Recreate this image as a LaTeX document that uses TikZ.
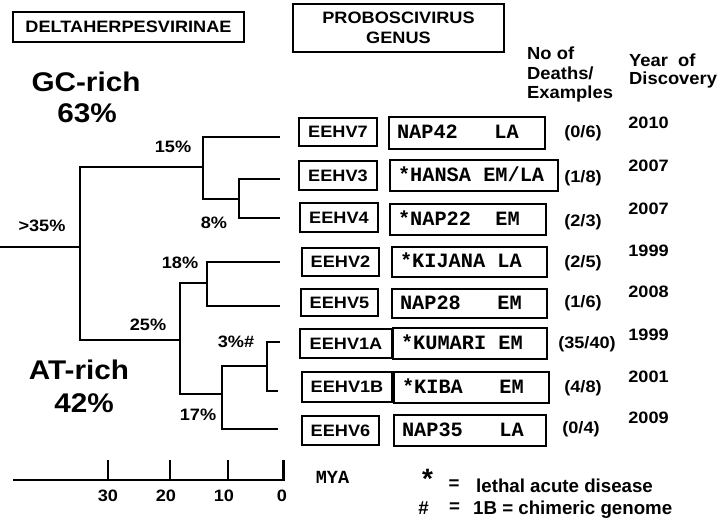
\documentclass[tikz,border=0pt]{standalone}
\usepackage{fontspec}
\setmainfont{Liberation Sans}
\newfontfamily\hv[FakeStretch=1.1]{Liberation Sans}
\newfontfamily\hw[FakeStretch=1.05]{Liberation Sans}
\newfontfamily\cour{Liberation Mono}
\newcommand\msp{\hphantom{M}}
\tikzset{
  lab/.style={font=\hv\bfseries\fontsize{16.5}{18}\selectfont, inner sep=0pt},
  hdr/.style={font=\hw\bfseries\fontsize{17.5}{20}\selectfont, inner sep=0pt},
  big/.style={font=\hv\bfseries\fontsize{27}{30}\selectfont, inner sep=0pt},
  tree/.style={line width=2pt},
  vbox/.style={draw, line width=2.4pt, inner sep=0pt, font=\hv\bfseries\fontsize{16.5}{18}\selectfont, text height=11.8pt, text depth=0pt},
  mbox/.style={draw, line width=2.4pt, inner xsep=8pt, inner ysep=0pt, align=left, font=\cour\bfseries\fontsize{20.3}{22}\selectfont, text height=11.6pt, text depth=0pt},
  hbox/.style={draw, line width=2.4pt, inner sep=0pt, align=center, font=\hv\bfseries\fontsize{16.5}{20}\selectfont},
  note/.style={font=\bfseries\fontsize{18.7}{20}\selectfont, inner sep=0pt},
}
\begin{document}
\begin{tikzpicture}[x=1pt,y=-1pt]
\useasboundingbox (0,0) rectangle (720,521);
% title boxes
\node[hbox, minimum width=231pt, minimum height=30pt] (delta) at (128.5,27) {DELTAHERPESVIRINAE};
\node[hbox, minimum width=211pt, minimum height=48pt] (prob) at (398.5,28) {PROBOSCIVIRUS\\GENUS};
% GC / AT
\node[big] (gc) at (86,82) {GC-rich};
\node[big] (gcp) at (87,113) {63\%};
\node[big] (at) at (79,370) {AT-rich};
\node[big] (atp) at (84,403) {42\%};
% headers
\node[hdr, anchor=base west] (h1) at (527,60) {No of};
\node[hdr, anchor=base west] (h2) at (527,80) {Deaths/};
\node[hdr, anchor=base west] (h3) at (527,99) {Examples};
\node[hdr, anchor=base west] (y1) at (629,67) {Year\ \ of};
\node[hdr, anchor=base west] (y2) at (629,85) {Discovery};
% tree coordinates
\coordinate (root) at (0,247);
\coordinate (n0) at (80,247);
\coordinate (a) at (203,167);
\coordinate (b) at (239,199);
\coordinate (c) at (180,340);
\coordinate (d) at (207,283);
\coordinate (e) at (222,394);
\coordinate (f) at (267,366);
\coordinate (t1) at (280,137);
\coordinate (t2) at (280,179);
\coordinate (t3) at (280,218);
\coordinate (t4) at (280,262);
\coordinate (t5) at (280,306);
\coordinate (t6) at (280,342);
\coordinate (t7) at (278,391);
\coordinate (t8) at (278,429);
\draw[tree] (root) -- (n0);
\draw[tree] (n0) |- (a);
\draw[tree] (n0) |- (c);
\draw[tree] (a) |- (t1);
\draw[tree] (a) |- (b);
\draw[tree] (b) |- (t2);
\draw[tree] (b) |- (t3);
\draw[tree] (c) |- (d);
\draw[tree] (c) |- (e);
\draw[tree] (d) |- (t4);
\draw[tree] (d) |- (t5);
\draw[tree] (e) |- (f);
\draw[tree] (e) |- (t8);
\draw[tree] (f) |- (t6);
\draw[tree] (f) |- (t7);
% percent labels
\node[lab] (p35) at (42,226) {>35\%};
\node[lab] (p15) at (173,147) {15\%};
\node[lab] (p8) at (214,223) {8\%};
\node[lab] (p18) at (180,263) {18\%};
\node[lab] (p25) at (148,325) {25\%};
\node[lab] (p3) at (236,342) {3\%\#};
\node[lab] (p17) at (198,415) {17\%};
% EEHV boxes
\node[vbox, minimum width=78pt, minimum height=28pt] (v1) at (338,132) {EEHV7};
\node[vbox, minimum width=78pt, minimum height=29pt] (v2) at (338,175.5) {EEHV3};
\node[vbox, minimum width=78pt, minimum height=29pt] (v3) at (339,217.5) {EEHV4};
\node[vbox, minimum width=77pt, minimum height=28pt] (v4) at (340.5,262) {EEHV2};
\node[vbox, minimum width=77pt, minimum height=27pt] (v5) at (339.5,302.5) {EEHV5};
\node[vbox, minimum width=92pt, minimum height=29pt] (v6) at (346,343.5) {EEHV1A};
\node[vbox, minimum width=90pt, minimum height=30pt] (v7) at (347,387) {EEHV1B};
\node[vbox, minimum width=77pt, minimum height=29pt] (v8) at (340.5,430.5) {EEHV6};
% strain boxes
\node[mbox, text width=140pt, minimum height=32pt] (m1) at (467,133) {NAP42\msp\msp\msp LA};
\node[mbox, text width=152pt, minimum height=31pt] (m2) at (474,175.5) {*HANSA\msp EM/LA};
\node[mbox, text width=140pt, minimum height=31pt] (m3) at (468,219.5) {*NAP22\msp\msp EM};
\node[mbox, text width=139pt, minimum height=30pt] (m4) at (469.5,262) {*KIJANA\msp LA};
\node[mbox, text width=139pt, minimum height=29pt] (m5) at (469.5,303.5) {NAP28\msp\msp\msp EM};
\node[mbox, text width=138pt, minimum height=31pt] (m6) at (470,343.5) {*KUMARI\msp EM};
\node[mbox, text width=139pt, minimum height=31pt] (m7) at (471.5,387.5) {*KIBA\msp\msp\msp EM};
\node[mbox, text width=136pt, minimum height=31pt] (m8) at (470,430.5) {NAP35\msp\msp\msp LA};
% counts
\node[lab] (c1) at (583,133) {(0/6)};
\node[lab] (c2) at (583,178) {(1/8)};
\node[lab] (c3) at (583,222) {(2/3)};
\node[lab] (c4) at (583,263) {(2/5)};
\node[lab] (c5) at (583,303) {(1/6)};
\node[lab] (c6) at (587,344) {(35/40)};
\node[lab] (c7) at (583,388) {(4/8)};
\node[lab] (c8) at (581,429) {(0/4)};
% years
\node[lab] (yr1) at (648.5,123) {2010};
\node[lab] (yr2) at (648.5,166) {2007};
\node[lab] (yr3) at (648.5,209) {2007};
\node[lab] (yr4) at (648.5,251) {1999};
\node[lab] (yr5) at (648.5,292) {2008};
\node[lab] (yr6) at (648.5,335) {1999};
\node[lab] (yr7) at (648.5,377) {2001};
\node[lab] (yr8) at (648.5,418) {2009};
% axis
\coordinate (ax0) at (13,480);
\coordinate (ax1) at (285,480);
\draw[line width=2.7pt] (ax0) -- (ax1);
\foreach \xx/\lx/\tt in {108/108/30,170/166/20,228/224/10,283.5/282/0}{
  \coordinate (tk\tt) at (\xx,460);
  \coordinate (tb\tt) at (\xx,480);
  \draw[line width=2.4pt] (tk\tt) -- (tb\tt);
  \node[lab] (al\tt) at (\lx,495.5) {\tt};
}
\node[font=\cour\bfseries\fontsize{18.5}{20}\selectfont, inner sep=0pt] (mya) at (332.5,477) {MYA};
% legend
\node[font=\bfseries\fontsize{28}{30}\selectfont, inner sep=0pt, anchor=north] (ast) at (427.5,469) {*};
\node[note] (eq1) at (454,485) {=};
\node[note, anchor=base west] (leg1) at (476,492) {lethal acute disease};
\node[note] (hash) at (423.5,508.5) {\#};
\node[note] (eq2) at (454.5,508) {=};
\node[note, anchor=base west] (leg2) at (473,514) {1B = chimeric genome};
\end{tikzpicture}
\end{document}
